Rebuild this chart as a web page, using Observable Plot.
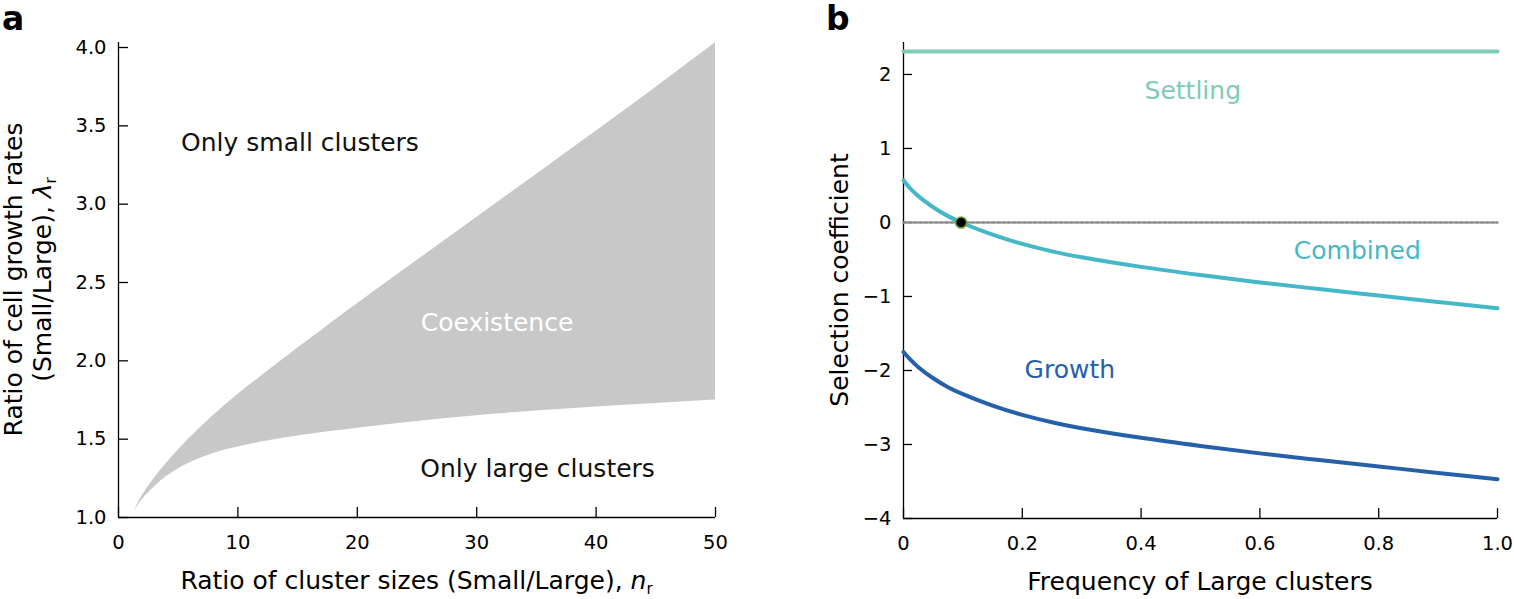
<!DOCTYPE html>
<html>
<head>
<meta charset="utf-8">
<script src="https://cdn.jsdelivr.net/npm/d3@7"></script>
<script src="https://cdn.jsdelivr.net/npm/@observablehq/plot@0.6"></script>
<style>
  html, body { margin: 0; padding: 0; background: #fff; }
  #wrap { position: relative; width: 1514px; height: 599px; overflow: hidden; background: #fff; }
  #wrap svg { position: absolute; top: 0; }
  .panel { position: absolute; top: 1px; font-family: 'DejaVu Sans', sans-serif; font-weight: 900; font-size: 33px; line-height: 36px; color: #000; }
</style>
</head>
<body>
<div id="wrap">
  <div class="panel" style="left:2px">a</div>
  <div class="panel" style="left:826px">b</div>
</div>
<script>
// ---------- Panel a data ----------
const nr          = [1.3, 2, 3, 4, 5, 6, 8, 10, 12, 15, 20, 25, 30, 35, 40, 45, 50];
const upperLambda = [1.04, 1.14, 1.25, 1.345, 1.43, 1.51, 1.655, 1.785, 1.905, 2.08, 2.365, 2.64, 2.915, 3.19, 3.465, 3.745, 4.03];
const lowerLambda = [1.04, 1.115, 1.195, 1.26, 1.31, 1.35, 1.41, 1.45, 1.482, 1.52, 1.57, 1.613, 1.65, 1.68, 1.705, 1.728, 1.75];
const aXTicks = [0, 10, 20, 30, 40, 50];
const aYTicks = [1.0, 1.5, 2.0, 2.5, 3.0, 3.5, 4.0];
const aLabels = ["Only small clusters", "Coexistence", "Only large clusters"];
const aLabelX = [15.2, 31.7, 35.1];
const aLabelY = [3.39, 2.24, 1.31];

// ---------- Panel b data ----------
const freq     = [0, 0.01, 0.025, 0.05, 0.075, 0.1, 0.15, 0.2, 0.25, 0.3, 0.4, 0.5, 0.6, 0.7, 0.8, 0.9, 1.0];
const growth   = [-1.75, -1.84, -1.955, -2.105, -2.225, -2.32, -2.475, -2.60, -2.70, -2.78, -2.91, -3.02, -3.12, -3.21, -3.297, -3.384, -3.47];
const combined = [0.57, 0.47, 0.356, 0.206, 0.086, -0.01, -0.165, -0.29, -0.39, -0.47, -0.60, -0.71, -0.81, -0.90, -0.987, -1.074, -1.16];
const settlingX = [0, 1];
const settlingY = [2.31, 2.31];
const zeroX = [0, 1];
const equilibriumX = [0.097];
const equilibriumY = [0];
const bXTicks = [0, 0.2, 0.4, 0.6, 0.8, 1.0];
const bYTicks = [-4, -3, -2, -1, 0, 1, 2];
const bLabels = ["Settling", "Combined", "Growth"];
const bLabelX = [0.487, 0.764, 0.28];
const bLabelY = [1.78, -0.39, -1.99];
const bColors = ["#7ecbb6", "#45b8c7", "#2560a9"];

const FONT = "'DejaVu Sans', sans-serif";
const TICKFONT = 19.5;
const TITLEFONT = 25;
const style = {fontFamily: FONT, fontSize: TICKFONT + "px", color: "#000", background: "transparent", overflow: "visible"};
const TICK = 10;

// ---------- Panel a ----------
const regionA = nr.map((n, i) => ({n, lo: lowerLambda[i], hi: upperLambda[i]}));
const aW = 757, aH = 599, aML = 118, aMR = 42, aMT = 42, aMB = 82;
const plotA = Plot.plot({
  width: aW, height: aH,
  marginLeft: aML, marginRight: aMR, marginTop: aMT, marginBottom: aMB,
  style,
  x: {domain: [0, 50]},
  y: {domain: [1, 4.032]},
  marks: [
    Plot.areaY(regionA, {x: "n", y1: "lo", y2: "hi", fill: "#c8c8c8", curve: "catmull-rom"}),
    Plot.ruleX([0], {stroke: "#000", strokeWidth: 1.3}),
    Plot.ruleY([1], {stroke: "#000", strokeWidth: 1.3}),
    Plot.tickY(aYTicks, {y: d => d, stroke: "#000", strokeWidth: 1.3, insetRight: (aW - aML - aMR) - TICK}),
    Plot.tickX(aXTicks, {x: d => d, stroke: "#000", strokeWidth: 1.3, insetTop: (aH - aMT - aMB) - TICK}),
    Plot.axisY({ticks: aYTicks, tickSize: 0, tickPadding: 12, tickFormat: d3.format(".1f"), label: null, fontSize: TICKFONT}),
    Plot.axisX({ticks: aXTicks, tickSize: 0, tickPadding: 18, tickFormat: d3.format("d"), label: null, fontSize: TICKFONT}),
    Plot.text(aLabels, {x: (d, i) => aLabelX[i], y: (d, i) => aLabelY[i], text: d => d,
      fill: (d, i) => i === 1 ? "#ffffff" : "#111111", fontSize: 25})
  ]
});

// ---------- Panel b ----------
const curveB = freq.map((f, i) => ({f, g: growth[i], c: combined[i]}));
const bW = 757, bH = 599, bML = 146, bMR = 17, bMT = 42, bMB = 81;
const plotB = Plot.plot({
  width: bW, height: bH,
  marginLeft: bML, marginRight: bMR, marginTop: bMT, marginBottom: bMB,
  style,
  x: {domain: [0, 1]},
  y: {domain: [-4, 2.432]},
  marks: [
    Plot.ruleX([0], {stroke: "#000", strokeWidth: 1.3}),
    Plot.ruleY([-4], {stroke: "#000", strokeWidth: 1.3}),
    Plot.tickY(bYTicks, {y: d => d, stroke: "#000", strokeWidth: 1.3, insetRight: (bW - bML - bMR) - 9}),
    Plot.tickX(bXTicks, {x: d => d, stroke: "#000", strokeWidth: 1.3, insetTop: (bH - bMT - bMB) - TICK}),
    Plot.axisY({ticks: bYTicks, tickSize: 0, tickPadding: 12, tickFormat: d3.format("d"), label: null, fontSize: TICKFONT}),
    Plot.axisX({ticks: bXTicks, tickSize: 0, tickPadding: 18, tickFormat: d => d === 0 ? "0" : d3.format(".1f")(d), label: null, fontSize: TICKFONT}),
    Plot.lineY(zeroX, {x: d => d, y: 0, stroke: "#8c8c8c", strokeWidth: 2.5, strokeDasharray: "3,2.2"}),
    Plot.line(settlingX, {x: d => d, y: (d, i) => settlingY[i], stroke: bColors[0], strokeWidth: 4}),
    Plot.line(curveB, {x: "f", y: "c", stroke: bColors[1], strokeWidth: 4, curve: "catmull-rom"}),
    Plot.line(curveB, {x: "f", y: "g", stroke: bColors[2], strokeWidth: 4, curve: "catmull-rom"}),
    Plot.dot(equilibriumX, {x: d => d, y: (d, i) => equilibriumY[i], r: 5.5, fill: "#000", stroke: "#6aa63c", strokeWidth: 1.6}),
    Plot.text(bLabels, {x: (d, i) => bLabelX[i], y: (d, i) => bLabelY[i], text: d => d,
      fill: (d, i) => bColors[i], fontSize: 25})
  ]
});

const wrap = document.getElementById("wrap");
plotA.style.left = "0px";
plotB.style.left = "757px";
wrap.appendChild(plotA);
wrap.appendChild(plotB);

// ---------- Axis titles ----------
function addTitles(plot, xTitleBuilder, yTitleBuilder) {
  const svg = d3.select(plot);
  const [x0, x1] = plot.scale("x").range;
  const [y0, y1] = plot.scale("y").range;
  const cx = (x0 + x1) / 2, cy = (y0 + y1) / 2;
  const xt = svg.append("text").attr("x", cx).attr("y", y0 + 72)
    .attr("text-anchor", "middle").attr("font-family", FONT).attr("font-size", TITLEFONT).attr("fill", "#000");
  xTitleBuilder(xt);
  const yt = svg.append("g").attr("transform", `translate(0,${cy}) rotate(-90)`);
  yTitleBuilder(yt);
}

addTitles(plotA,
  t => {
    t.append("tspan").text("Ratio of cluster sizes (Small/Large), ");
    t.append("tspan").attr("font-style", "italic").text("n");
    t.append("tspan").attr("font-size", 15).attr("dy", "0.35em").text("r");
  },
  g => {
    g.append("text").attr("x", 0).attr("y", 22).attr("text-anchor", "middle")
      .attr("font-family", FONT).attr("font-size", TITLEFONT).attr("fill", "#000")
      .text("Ratio of cell growth rates");
    const t2 = g.append("text").attr("x", 0).attr("y", 51).attr("text-anchor", "middle")
      .attr("font-family", FONT).attr("font-size", TITLEFONT).attr("fill", "#000");
    t2.append("tspan").text("(Small/Large), ");
    t2.append("tspan").attr("font-style", "italic").text("λ");
    t2.append("tspan").attr("font-size", 15).attr("dy", "0.35em").text("r");
  });

addTitles(plotB,
  t => { t.text("Frequency of Large clusters"); },
  g => {
    g.append("text").attr("x", 0).attr("y", 91).attr("text-anchor", "middle")
      .attr("font-family", FONT).attr("font-size", TITLEFONT).attr("fill", "#000")
      .text("Selection coefficient");
  });
</script>
</body>
</html>
